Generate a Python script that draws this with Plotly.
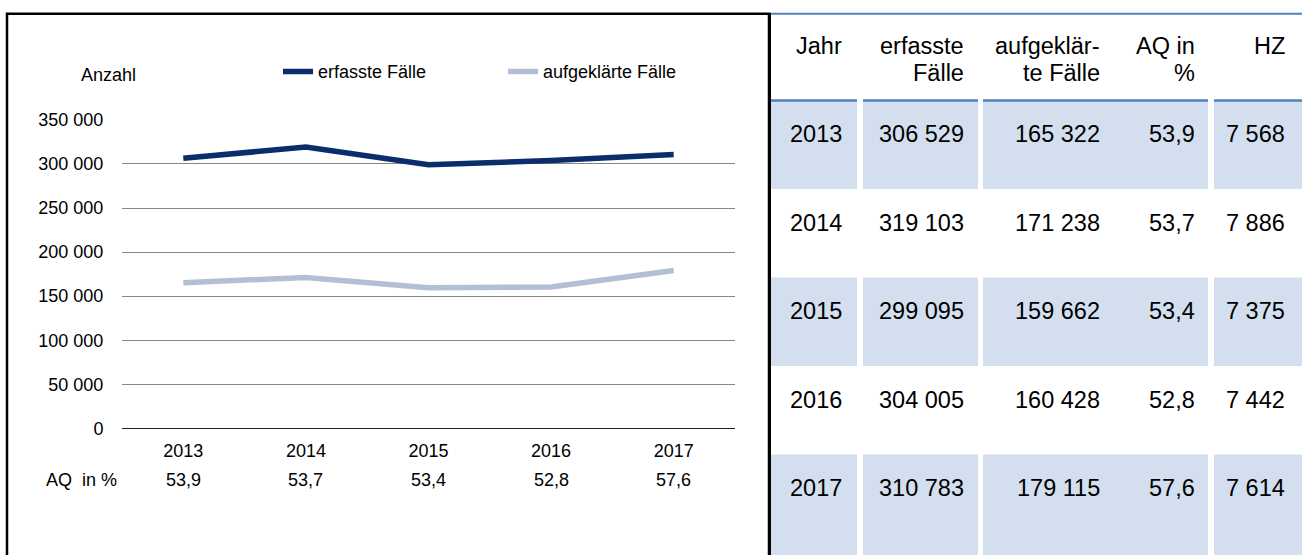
import plotly.graph_objects as go

# ---------------- data ----------------
years = ["2013", "2014", "2015", "2016", "2017"]
erfasste = [306529, 319103, 299095, 304005, 310783]
aufgeklaert = [165322, 171238, 159662, 160428, 179115]
aq_pct = [53.9, 53.7, 53.4, 52.8, 57.6]
hz = [7568, 7886, 7375, 7442, 7614]
series_names = ["erfasste Fälle", "aufgeklärte Fälle"]
y_ticks = [0, 50000, 100000, 150000, 200000, 250000, 300000, 350000]
header_line1 = ["Jahr", "erfasste", "aufgeklär-", "AQ in", "HZ"]
header_line2 = ["", "Fälle", "te Fälle", "%", ""]
y_title = "Anzahl"
aq_label = "AQ\u00a0 in %"

# ---------------- style ----------------
W, H = 1302, 555
FONT = "Liberation Sans, Arial, sans-serif"
C_ERF = "#0b2d6c"
C_AUF = "#b3bfd5"
C_FILL = "#d3dfee"
C_BLUE = "#4f81bd"


def px(x):
    return x / W


def py(y):
    return 1 - y / H


def fmt_int(v):
    return f"{v:,}".replace(",", " ")


def fmt_dec(v):
    return f"{v:.1f}".replace(".", ",")


fig = go.Figure()
for name, vals, col in [(series_names[0], erfasste, C_ERF), (series_names[1], aufgeklaert, C_AUF)]:
    fig.add_trace(go.Scatter(x=years, y=vals, name=name, mode="lines",
                             line=dict(color=col, width=5.5)))

shapes = []
annotations = []

# chart frame
shapes.append(dict(type="rect", xref="paper", yref="paper",
                   x0=px(7), x1=px(769), y0=py(575), y1=py(4),
                   line=dict(color="black", width=2.5), fillcolor="rgba(0,0,0,0)"))

# y axis title
annotations.append(dict(text=y_title, xref="paper", yref="paper", x=px(79), y=py(67),
                        xanchor="left", yanchor="middle", showarrow=False,
                        font=dict(family=FONT, size=18, color="black")))
# AQ row under chart
annotations.append(dict(text=aq_label, xref="paper", yref="paper", x=px(44), y=py(488),
                        xanchor="left", yanchor="middle", showarrow=False,
                        font=dict(family=FONT, size=18, color="black")))
for i, v in enumerate(aq_pct):
    annotations.append(dict(text=fmt_dec(v), xref="x", yref="paper", x=i, y=py(488),
                            xanchor="center", yanchor="middle", showarrow=False,
                            font=dict(family=FONT, size=18, color="black")))

# ---------------- table ----------------
blocks = [(771, 857), (863, 978), (983, 1208), (1214, 1302)]
text_right = [844, 966, 1102, 1196.5, 1287]
header_top, row0, pitch = 4, 94, 91.75
n_rows = len(years)

# top rule
shapes.append(dict(type="line", xref="paper", yref="paper", x0=px(768), x1=px(1302),
                   y0=py(header_top), y1=py(header_top), line=dict(color=C_BLUE, width=2)))
# shaded rows
for r in range(n_rows):
    if r % 2 == 0:
        top = row0 + r * pitch
        bottom = top + pitch if r < n_rows - 1 else H + 20
        for (a, b) in blocks:
            shapes.append(dict(type="rect", xref="paper", yref="paper",
                               x0=px(a), x1=px(b), y0=py(bottom), y1=py(top),
                               line=dict(width=0), fillcolor=C_FILL, layer="below"))
# header bottom rule segments
for (a, b) in blocks:
    shapes.append(dict(type="line", xref="paper", yref="paper", x0=px(a), x1=px(b),
                       y0=py(row0), y1=py(row0), line=dict(color=C_BLUE, width=2.5)))
# table left border
shapes.append(dict(type="line", xref="paper", yref="paper", x0=px(769.5), x1=px(769.5),
                   y0=py(3), y1=py(575), line=dict(color="black", width=3)))

tfont = dict(family=FONT, size=23.5, color="black")
for c in range(5):
    annotations.append(dict(text=header_line1[c], xref="paper", yref="paper",
                            x=px(text_right[c]), y=py(37), xanchor="right", yanchor="middle",
                            showarrow=False, font=tfont))
    if header_line2[c]:
        annotations.append(dict(text=header_line2[c], xref="paper", yref="paper",
                                x=px(text_right[c]), y=py(65), xanchor="right", yanchor="middle",
                                showarrow=False, font=tfont))

for r in range(n_rows):
    cy = row0 + r * pitch + 35
    cells = [years[r], fmt_int(erfasste[r]), fmt_int(aufgeklaert[r]), fmt_dec(aq_pct[r]), fmt_int(hz[r])]
    for c, t in enumerate(cells):
        annotations.append(dict(text=t, xref="paper", yref="paper",
                                x=px(text_right[c]), y=py(cy), xanchor="right", yanchor="middle",
                                showarrow=False, font=tfont))

fig.update_layout(
    width=W, height=H,
    margin=dict(l=0, r=0, t=0, b=0),
    paper_bgcolor="white", plot_bgcolor="white",
    separators=", ",
    font=dict(family=FONT, size=18, color="black"),
    showlegend=True,
    legend=dict(orientation="h", x=px(278), y=py(64), xanchor="left", yanchor="middle",
                entrywidth=180, entrywidthmode="pixels", bgcolor="rgba(0,0,0,0)",
                font=dict(family=FONT, size=18, color="black")),
    xaxis=dict(domain=[px(122), px(735)], type="category", range=[-0.5, 4.5],
               showgrid=False, showline=True, linecolor="#202020", linewidth=1,
               ticks="outside", ticklen=6, tickcolor="rgba(0,0,0,0)",
               tickfont=dict(family=FONT, size=18, color="black"), fixedrange=True),
    yaxis=dict(domain=[py(434), py(114)], range=[0, 350000], tickvals=y_ticks,
               tickformat=",d", showgrid=True, gridcolor="#868686", gridwidth=1,
               zeroline=False, showline=False,
               ticks="outside", ticklen=14, tickcolor="rgba(0,0,0,0)",
               tickfont=dict(family=FONT, size=18, color="black"), fixedrange=True),
    shapes=shapes, annotations=annotations,
)

fig.write_html(
    "out.html",
    config={"displayModeBar": False},
    post_script="document.body.style.margin='0';document.body.style.overflow='hidden';",
)
